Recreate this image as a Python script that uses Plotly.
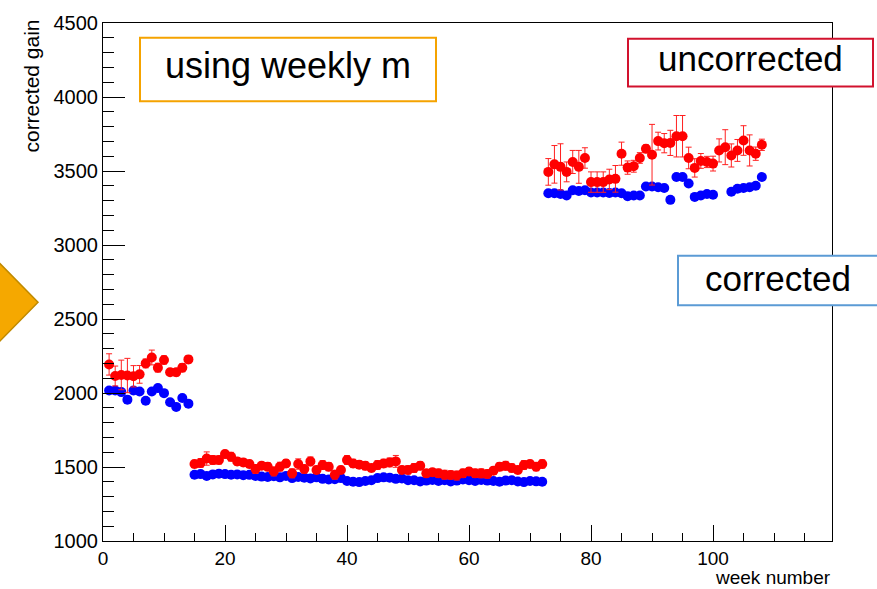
import plotly.graph_objects as go

# ---------------- data ----------------
weeks = list(range(1, 109))

red_gain = [
    # weeks 1-14
    2193, 2115, 2122, 2118, 2113, 2126, 2200, 2240, 2171, 2223, 2140, 2140, 2171, 2227,
    # weeks 15-72
    1520, 1527, 1557, 1547, 1547, 1587, 1569, 1538, 1531, 1520, 1486, 1508, 1502, 1470,
    1502, 1524, 1457, 1520, 1486, 1538, 1480, 1513, 1502, 1448, 1480, 1547, 1524, 1516,
    1508, 1493, 1513, 1524, 1531, 1538, 1480, 1480, 1493, 1508, 1457, 1464, 1457, 1448,
    1446, 1442, 1457, 1470, 1457, 1457, 1453, 1475, 1502, 1508, 1493, 1480, 1513, 1520,
    1502, 1520,
    # weeks 73-108
    3494, 3545, 3528, 3494, 3561, 3528, 3588, 3425, 3425, 3425, 3443, 3447, 3617, 3523,
    3532, 3588, 3650, 3610, 3702, 3688, 3690, 3735, 3735, 3588, 3521, 3568, 3561, 3550,
    3639, 3661, 3605, 3639, 3706, 3639, 3617, 3677,
]
red_err = [
    72, 67, 100, 116, 72, 60, 30, 50, 30, 28, 22, 25, 28, 25,
    25, 30, 45, 30, 28, 25, 30, 25, 22, 25, 30, 25, 28, 30,
    30, 25, 30, 35, 28, 30, 25, 30, 28, 30, 25, 30, 28, 25,
    28, 25, 30, 28, 30, 40, 25, 28, 30, 28, 25, 25, 28, 30,
    28, 30, 28, 25, 28, 30, 28, 25, 28, 30, 28, 25, 30, 25,
    28, 28,
    90, 127, 156, 67, 78, 111, 69, 69, 69, 69, 69, 90, 78, 45,
    40, 36, 27, 205, 60, 65, 85, 140, 140, 73, 62, 50, 38, 50,
    78, 118, 78, 74, 100, 105, 45, 38,
]

blue_gain = [
    # weeks 1-14
    2017, 2017, 2006, 1955, 2017, 2010, 1948, 2010, 2033, 1999, 1937, 1906, 1966, 1928,
    # weeks 15-72
    1448, 1452, 1440, 1450, 1455, 1452, 1448, 1450, 1445, 1447, 1440, 1435, 1432, 1438,
    1430, 1440, 1425, 1432, 1428, 1422, 1430, 1420, 1415, 1418, 1425, 1405, 1400, 1398,
    1405, 1410, 1425, 1430, 1428, 1420, 1422, 1410, 1410, 1402, 1408, 1412, 1405, 1410,
    1402, 1408, 1415, 1410, 1405, 1412, 1408, 1405, 1400, 1408, 1410, 1402, 1398, 1405,
    1403, 1400,
    # weeks 73-108
    3350, 3350, 3345, 3335, 3370, 3365, 3370, 3355, 3355, 3355, 3352, 3355, 3350, 3330,
    3335, 3335, 3395, 3395, 3390, 3385, 3305, 3460, 3460, 3415, 3325, 3335, 3345, 3340,
    None, None, 3360, 3380, 3385, 3390, 3400, 3460,
]
blue_err = [
    20, 20, 12, 15, 10, 10, 10, 10, 10, 10, 10, 10, 10, 10,
] + [8] * 58 + [8] * 36

x_ticks = [0, 20, 40, 60, 80, 100]
y_ticks = [1000, 1500, 2000, 2500, 3000, 3500, 4000, 4500]

# ---------------- layout geometry (pixels) ----------------
W, H = 877, 589
L, R, T, B = 103, 832, 18, 541


def px(x):
    return (x - L) / (R - L)


def py(y):
    return (B - y) / (B - T)


FONT = "Liberation Sans, Arial, sans-serif"

fig = go.Figure()

fig.add_trace(go.Scatter(
    x=weeks, y=blue_gain, mode="markers", name="corrected",
    marker=dict(color="#0000FF", size=10, symbol="circle"),
    error_y=dict(type="data", array=blue_err, color="#0000FF", thickness=1, width=3),
))
fig.add_trace(go.Scatter(
    x=weeks, y=red_gain, mode="markers", name="uncorrected",
    marker=dict(color="#FF0000", size=10, symbol="circle"),
    error_y=dict(type="data", array=red_err, color="#FF2020", thickness=1, width=3),
))

fig.update_layout(
    width=W, height=H,
    margin=dict(l=L, r=W - R, t=T, b=H - B, pad=0),
    paper_bgcolor="white", plot_bgcolor="white",
    showlegend=False,
    font=dict(family=FONT, color="black"),
    xaxis=dict(
        range=[0, 119.5], tickmode="array", tickvals=x_ticks,
        ticks="inside", ticklen=16, tickwidth=1, tickcolor="black",
        minor=dict(dtick=5, tick0=0, ticks="inside", ticklen=8, tickcolor="black"),
        showline=True, linecolor="black", linewidth=1, mirror=True,
        showgrid=False, zeroline=False,
        tickfont=dict(size=19, family=FONT),
    ),
    yaxis=dict(
        range=[1000, 4500], tickmode="array", tickvals=y_ticks,
        ticks="inside", ticklen=22, tickwidth=1, tickcolor="black",
        minor=dict(dtick=100, tick0=1000, ticks="inside", ticklen=11, tickcolor="black"),
        showline=True, linecolor="black", linewidth=1, mirror=True,
        showgrid=False, zeroline=False,
        tickfont=dict(size=20, family=FONT),
    ),
)

shapes = []
# orange arrow at left edge
shapes.append(dict(
    type="path", xref="paper", yref="paper",
    path=f"M {px(-30)} {py(230)} L {px(38)} {py(300)} L {px(-30)} {py(370)} Z",
    fillcolor="#F5A800", line=dict(color="#C08A00", width=1.5), layer="above",
))
# boxes
boxes = [
    (140, 33, 436, 97, "#F5A300"),
    (628, 34, 873, 82, "#D2122E"),
    (678, 253, 895, 303, "#5B9BD5"),
]
for x0, y0, x1, y1, col in boxes:
    shapes.append(dict(
        type="rect", xref="paper", yref="paper",
        x0=px(x0), x1=px(x1), y0=py(y1), y1=py(y0),
        fillcolor="white", line=dict(color=col, width=2), layer="above",
    ))
fig.update_layout(shapes=shapes)

annotations = [
    dict(text="using weekly m", x=px(288), y=py(61), size=36),
    dict(text="uncorrected", x=px(750), y=py(54), size=35),
    dict(text="corrected", x=px(778), y=py(276), size=35),
]
for a in annotations:
    fig.add_annotation(
        text=a["text"], x=a["x"], y=a["y"], xref="paper", yref="paper",
        xanchor="center", yanchor="middle", showarrow=False,
        font=dict(size=a["size"], family=FONT, color="black"),
    )

# axis titles
fig.add_annotation(
    text="week number", x=1, y=py(589), xref="paper", yref="paper",
    xanchor="right", yanchor="bottom", showarrow=False, borderpad=0,
    font=dict(size=19, family=FONT, color="black"),
)
fig.add_annotation(
    text="corrected gain", x=px(32), y=py(13), xref="paper", yref="paper",
    xanchor="center", yanchor="top", textangle=-90, showarrow=False,
    font=dict(size=21, family=FONT, color="black"),
)

fig.write_html("out.html")
